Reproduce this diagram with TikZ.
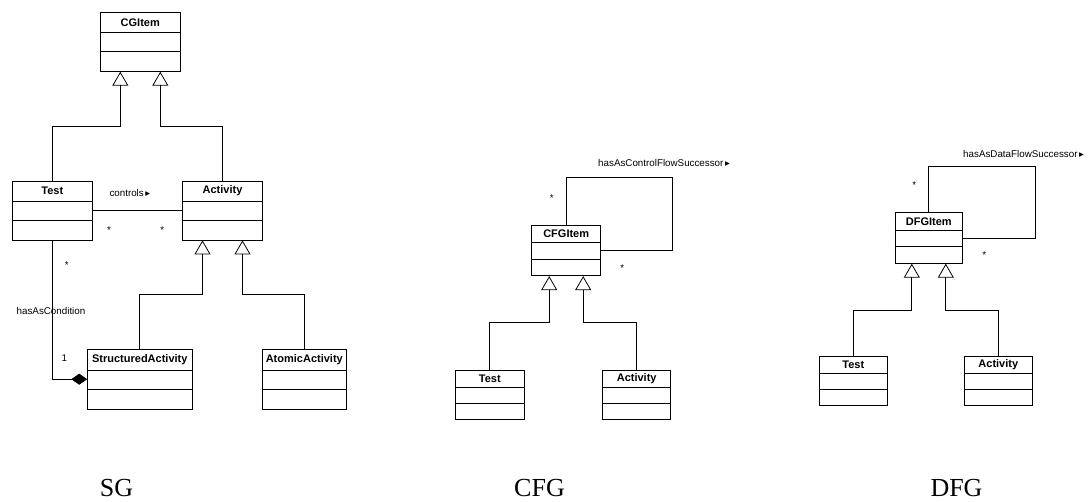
\documentclass[tikz,border=0pt]{standalone}
\usepackage{fontspec}
\setmainfont{Liberation Serif}
\setsansfont{Liberation Sans}
\newfontfamily\symfnt{DejaVu Sans}
\usetikzlibrary{arrows.meta}

\newcommand{\rdir}{{\symfnt\fontsize{9.5}{10}\selectfont ▸}}
% class box: name, x, y, width, height, title row, title
\newcommand{\umlclass}[7]{%
  \node[umlcls, minimum width=#4pt, minimum height=#5pt] (#1) at (#2,#3) {};
  \pgfmathsetmacro\clsrow{#6+(#5-#6)/2}
  \draw[line width=.8pt] ([yshift=-#6pt]#1.north west) -- ([yshift=-#6pt]#1.north east)
    ([yshift=-\clsrow pt]#1.north west) -- ([yshift=-\clsrow pt]#1.north east);
  \node[clsname] (#1-title) at ([yshift=-#6pt/2]#1.north) {#7};
}

\tikzset{
  umlcls/.style={draw, line width=.8pt, inner sep=0pt},
  clsname/.style={font=\sffamily\bfseries\fontsize{11}{13}\selectfont, inner sep=0pt},
  lbl/.style={font=\sffamily\fontsize{9.8}{12}\selectfont, inner sep=0pt},
  gen/.style={draw, line width=.8pt, -{Triangle[open, length=14pt, width=16pt]}},
  assoc/.style={draw, line width=.8pt},
  comp/.style={assoc, -{Diamond[length=16pt, width=11pt]}},
  caption/.style={font=\rmfamily\fontsize{26}{30}\selectfont, inner sep=0pt}
}

\begin{document}
\begin{tikzpicture}[x=1pt,y=-1pt]
\useasboundingbox (0,0) rectangle (1090,502);

% SG
\umlclass{cg}{140.3}{41.8}{80.7}{59}{21}{CGItem}
\umlclass{test}{52.3}{210.5}{80}{59}{21}{Test}
\umlclass{act}{222.5}{210.5}{79.6}{59}{21}{Activity}
\umlclass{sact}{139.8}{379.2}{104.3}{59.7}{21.4}{StructuredActivity}
\umlclass{aact}{304.3}{379.2}{84}{59.7}{21.4}{AtomicActivity}

\draw[gen] (test.north) -- (test.north |- 0,126) -| ([xshift=-20pt]cg.south);
\draw[gen] (act.north) -- (act.north |- 0,126) -| ([xshift=20pt]cg.south);
\draw[gen] (sact.north) -- (sact.north |- 0,294.3) -| ([xshift=-20pt]act.south);
\draw[gen] (aact.north) -- (aact.north |- 0,294.3) -| ([xshift=20pt]act.south);
\draw[assoc] (test) -- (act);
\draw[comp] (test.south) |- (sact.west);

\node[lbl, anchor=west] (controls) at (109.3,193) {controls\,\rdir};
\node[lbl] (sg-s1) at (109,230.5) {*};
\node[lbl] (sg-s2) at (162.3,230.5) {*};
\node[lbl] (sg-s3) at (66.7,265.3) {*};
\node[lbl] (cond) at (51,310.7) {hasAsCondition};
\node[lbl] (sg-one) at (64.3,357.7) {1};

% CFG
\umlclass{cfgi}{566.2}{250.7}{69}{50}{17.6}{CFGItem}
\umlclass{ctest}{489.8}{395}{68.3}{48.6}{17.6}{Test}
\umlclass{cact}{636.7}{395}{68}{48.6}{17.6}{Activity}

\draw[gen] (ctest.north) -- (ctest.north |- 0,322.7) -| ([xshift=-17pt]cfgi.south);
\draw[gen] (cact.north) -- (cact.north |- 0,322.7) -| ([xshift=17pt]cfgi.south);
\coordinate (cloop) at (672.7,177.3);
\draw[assoc] (cfgi.north) |- (cloop) |- (cfgi.east);

\node[lbl, anchor=west] (csucc) at (598,163) {hasAsControlFlowSuccessor\,\rdir};
\node[lbl] (cfg-s1) at (551.7,198) {*};
\node[lbl] (cfg-s2) at (622.3,268) {*};

% DFG
\umlclass{dfgi}{928.8}{238}{67.7}{50.6}{18}{DFGItem}
\umlclass{dtest}{853.3}{381.2}{68}{49}{17.6}{Test}
\umlclass{dact}{998.3}{381.2}{68}{49}{17.6}{Activity}

\draw[gen] (dtest.north) -- (dtest.north |- 0,310) -| ([xshift=-17pt]dfgi.south);
\draw[gen] (dact.north) -- (dact.north |- 0,310) -| ([xshift=17pt]dfgi.south);
\coordinate (dloop) at (1035,166.7);
\draw[assoc] (dfgi.north) |- (dloop) |- (dfgi.east);

\node[lbl, anchor=west] (dsucc) at (963,154) {hasAsDataFlowSuccessor\,\rdir};
\node[lbl] (dfg-s1) at (914.3,185.3) {*};
\node[lbl] (dfg-s2) at (984.3,255.3) {*};

% captions
\node[caption] (sg) at (116.5,488) {SG};
\node[caption] (cfg) at (539.5,488) {CFG};
\node[caption] (dfg) at (956.5,488) {DFG};
\end{tikzpicture}
\end{document}
